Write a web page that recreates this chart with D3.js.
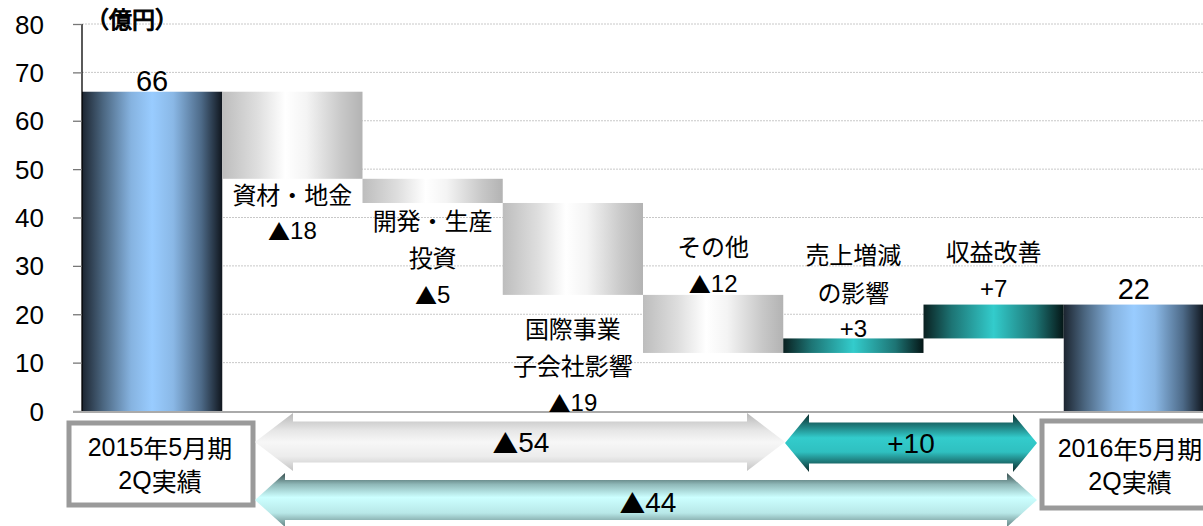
<!DOCTYPE html>
<html><head><meta charset="utf-8">
<script src="https://cdn.jsdelivr.net/npm/d3@7/dist/d3.min.js"></script>
<style>html,body{margin:0;padding:0;background:#fff;overflow:hidden}</style>
</head><body>
<svg id="c" width="1203" height="526"></svg>
<script>
// ---- data ----
const categories = ["2015年5月期2Q実績","資材・地金","開発・生産投資","国際事業子会社影響","その他","売上増減の影響","収益改善","2016年5月期2Q実績"];
const values = [66, -18, -5, -19, -12, 3, 7, 22];
const kinds = ["total","minus","minus","minus","minus","plus","plus","total"];
const labelLines = [["66"],["資材・地金","▲18"],["開発・生産","投資","▲5"],["国際事業","子会社影響","▲19"],["その他","▲12"],["売上増減","の影響","+3"],["収益改善","+7"],["22"]];
const yTicks = [0,10,20,30,40,50,60,70,80];
const unitLabel = "（億円）";
const boxLabels = [["2015年5月期","2Q実績"],["2016年5月期","2Q実績"]];
const arrowLabels = ["▲54","+10","▲44"];

// ---- layout (label placement relative to bar edge) ----
const labelSide = ["above","below","below","below","above","above","above","above"];
const labelGap = [11, 14, 16, 32, 12, 10, 17, 16];

const svg = d3.select("#c");
const x = d3.scaleBand().domain(categories).range([82, 1204]).padding(0);
const y = d3.scaleLinear().domain([0, 80]).range([411, 24]);

let run = 0;
const bars = categories.map((c, i) => {
  let lo, hi;
  if (kinds[i] === "total") { lo = 0; hi = values[i]; run = values[i]; }
  else { const s = run; run = run + values[i]; lo = Math.min(s, run); hi = Math.max(s, run); }
  return {c, i, lo, hi, kind: kinds[i]};
});

const defs = svg.append("defs");
function hGrad(id, stops) {
  const g = defs.append("linearGradient").attr("id", id).attr("x1","0").attr("x2","1").attr("y1","0").attr("y2","0");
  stops.forEach(s => g.append("stop").attr("offset", s[0]).attr("stop-color", s[1]));
}
function vGradUser(id, y1, y2, stops) {
  const g = defs.append("linearGradient").attr("id", id).attr("gradientUnits","userSpaceOnUse")
    .attr("x1",0).attr("x2",0).attr("y1",y1).attr("y2",y2);
  stops.forEach(s => g.append("stop").attr("offset", s[0]).attr("stop-color", s[1]));
}
hGrad("gTotal", [[0,"#1c2530"],[0.15,"#4b6680"],[0.35,"#86b3e0"],[0.5,"#99ccff"],[0.65,"#8ab8e6"],[0.85,"#4d6a88"],[1,"#10161e"]]);
hGrad("gMinus", [[0,"#bdbdbd"],[0.25,"#dedede"],[0.45,"#ffffff"],[0.6,"#f4f4f4"],[0.85,"#c8c8c8"],[1,"#b3b3b3"]]);
hGrad("gPlus", [[0,"#0a2020"],[0.2,"#1d7474"],[0.5,"#33cccc"],[0.8,"#1d7474"],[1,"#051616"]]);
const fills = {total:"url(#gTotal)", minus:"url(#gMinus)", plus:"url(#gPlus)"};

svg.append("g").selectAll("line").data(yTicks.filter(d => d > 0)).join("line")
  .attr("x1", 82).attr("x2", 1203).attr("y1", d => y(d)).attr("y2", d => y(d))
  .attr("stroke", "#c8c8c8").attr("stroke-width", 1).attr("stroke-dasharray", "2,1");

svg.append("g").selectAll("rect").data(bars).join("rect")
  .attr("x", d => x(d.c)).attr("width", x.bandwidth())
  .attr("y", d => y(d.hi)).attr("height", d => y(d.lo) - y(d.hi))
  .attr("fill", d => fills[d.kind]);

const latin = "'Liberation Sans', Arial, 'Noto Sans CJK JP', sans-serif";
const cjk = "'Noto Sans CJK JP', sans-serif";

// axis
const ax = svg.append("g").attr("transform", "translate(82,0)")
  .call(d3.axisLeft(y).tickValues(yTicks).tickSize(9).tickPadding(29).tickFormat(d3.format("d")));
ax.attr("font-family", null).attr("font-size", null);
ax.select(".domain").attr("stroke", "#000").attr("stroke-width", 1.3).attr("d", `M0,${y(80)}V${y(0)}`);
ax.selectAll(".tick line").attr("stroke", "#777").attr("stroke-width", 1.3);
ax.selectAll(".tick text").style("font-family", latin).style("font-size", "26px").attr("fill", "#000").attr("dy", "0.35em");

svg.append("line").attr("x1", 73).attr("x2", 1203).attr("y1", y(0) + 1).attr("y2", y(0) + 1)
  .attr("stroke", "#aaa").attr("stroke-width", 2);

// unit label (bold simulated with a thin stroke)
svg.append("text").attr("x", 132).attr("y", 18).attr("text-anchor", "middle")
  .attr("dominant-baseline", "central").attr("fill", "#000").attr("stroke", "#000").attr("stroke-width", 1.1)
  .style("font-family", cjk).style("font-size", "23px").text(unitLabel);

function mixedText(sel, t, fs) {
  const parts = t.match(/(▲|[0-9A-Za-z+]+|[^0-9A-Za-z+▲]+)/g);
  parts.forEach(p => {
    const isLatin = /^[0-9A-Za-z+]+$/.test(p);
    sel.append("tspan").text(p).style("font-family", isLatin ? latin : cjk)
      .style("font-size", (p === "▲" ? fs * 0.92 : fs) + "px");
  });
}

const LH = 37.5;
bars.forEach((d, i) => {
  const lines = labelLines[i];
  const cx = x(d.c) + x.bandwidth() / 2;
  const isTotal = d.kind === "total";
  const fs = isTotal ? 29 : 24;
  let firstCenter;
  if (labelSide[i] === "below") firstCenter = y(d.lo) + labelGap[i];
  else firstCenter = y(d.hi) - labelGap[i] - (lines.length - 1) * LH;
  lines.forEach((t, k) => {
    const tx = svg.append("text").attr("x", cx).attr("y", firstCenter + k * LH)
      .attr("text-anchor", "middle").attr("dominant-baseline", "central").attr("fill", "#000")
      .style("font-size", fs + "px");
    mixedText(tx, t, fs);
  });
});

// ---- bottom annotations ----
const boxes = [{x0: 69, x1: 253, y0: 423, y1: 505, cx: 160}, {x0: 1042, x1: 1215, y0: 421, y1: 508, cx: 1130}];
boxes.forEach((b, i) => {
  svg.append("rect").attr("x", b.x0).attr("y", b.y0).attr("width", b.x1 - b.x0).attr("height", b.y1 - b.y0)
    .attr("fill", "#fff").attr("stroke", "#9a9a9a").attr("stroke-width", 5);
  boxLabels[i].forEach((t, k) => {
    const tx = svg.append("text").attr("x", b.cx).attr("y", (b.y0 + b.y1) / 2 - 17 + k * 33)
      .attr("text-anchor", "middle").attr("dominant-baseline", "central").attr("fill", "#000").style("font-size", "25px");
    mixedText(tx, t, 25);
  });
});

function dblArrow(xl, xr, yc, hh, sh, hw) {
  return `M${xl},${yc} L${xl + hw},${yc - hh} L${xl + hw},${yc - sh} L${xr - hw},${yc - sh} L${xr - hw},${yc - hh} L${xr},${yc} L${xr - hw},${yc + hh} L${xr - hw},${yc + sh} L${xl + hw},${yc + sh} L${xl + hw},${yc + hh} Z`;
}
vGradUser("gArrGray", 413, 471, [[0,"#b8b8b8"],[0.3,"#e6e6e6"],[0.5,"#f7f7f7"],[0.75,"#ececec"],[1,"#c4c4c4"]]);
vGradUser("gArrTeal", 415, 472, [[0,"#0e3636"],[0.2,"#1f8080"],[0.4,"#33cccc"],[0.65,"#2fc0c0"],[0.85,"#1a6a6a"],[1,"#0b2a2a"]]);
vGradUser("gArrCyan", 474, 526, [[0,"#3e5656"],[0.2,"#8fb8b8"],[0.45,"#ccffff"],[0.75,"#b8e8e8"],[1,"#6a8a8a"]]);

const arrows = [
  {xl: 255, xr: 785, yc: 442, hh: 29, sh: 20.5, hw: 38, fill: "url(#gArrGray)", tx: 521, ty: 442},
  {xl: 785, xr: 1037, yc: 443, hh: 29, sh: 20.5, hw: 24, fill: "url(#gArrTeal)", tx: 911, ty: 443},
  {xl: 255, xr: 1037, yc: 500, hh: 27, sh: 20, hw: 30, fill: "url(#gArrCyan)", tx: 648, ty: 502}
];
arrows.forEach((a, i) => {
  svg.append("path").attr("d", dblArrow(a.xl, a.xr, a.yc, a.hh, a.sh, a.hw)).attr("fill", a.fill);
  const tx = svg.append("text").attr("x", a.tx).attr("y", a.ty).attr("text-anchor", "middle").attr("dominant-baseline", "central")
    .attr("fill", "#000").style("font-size", "28px");
  mixedText(tx, arrowLabels[i], 28);
});
</script>
</body></html>
